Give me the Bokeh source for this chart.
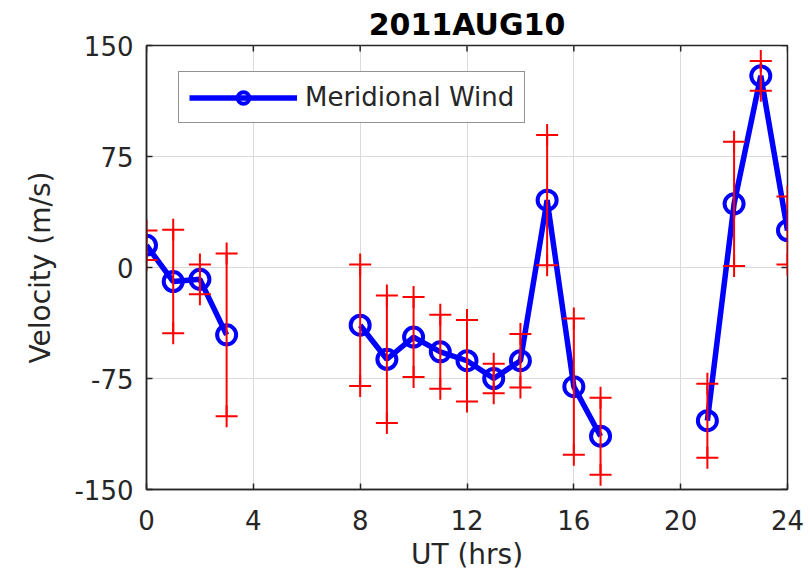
import math
from bokeh.plotting import figure
from bokeh.models import ColumnDataSource, FixedTicker, Legend, LegendItem
from bokeh.embed import file_html
from bokeh.resources import INLINE

# ---- data ----
ut_hours = list(range(25))
velocity = [15, -9.5, -8, -45.5, math.nan, math.nan, math.nan, math.nan,
            -39, -62, -47, -57, -63, -75, -63, 45.5, -80.5, -114,
            math.nan, math.nan, math.nan, -103.5, 43, 129.5, 25]
error = [10, 35, 10, 55, math.nan, math.nan, math.nan, math.nan,
         41, 43, 27, 25, 27.5, 10, 18, 44, 46, 26,
         math.nan, math.nan, math.nan, 25, 42, 10, 23]
x_ticks = [0, 4, 8, 12, 16, 20, 24]
y_ticks = [-150, -75, 0, 75, 150]
x_lim = (0, 24)
y_lim = (-150, 150)
title_text = "2011AUG10"
series_name = "Meridional Wind"

FONT = "DejaVu Sans"
AX = "#262626"

line_src = ColumnDataSource(dict(x=ut_hours, y=velocity))
valid = [i for i, v in enumerate(velocity) if not math.isnan(v)]
err_src = ColumnDataSource(dict(
    x=[ut_hours[i] for i in valid],
    y=[velocity[i] for i in valid],
    lo=[velocity[i] - error[i] for i in valid],
    hi=[velocity[i] + error[i] for i in valid],
))

p = figure(frame_width=641, frame_height=444, x_range=x_lim, y_range=y_lim,
           output_backend="svg", toolbar_location=None,
           min_border_left=146, min_border_right=23, min_border_top=44, min_border_bottom=98)
p.background_fill_color = "white"
p.border_fill_color = "white"
p.outline_line_color = AX
p.outline_line_width = 1.5

p.title.text = title_text
p.title.align = "center"
p.title.text_font = FONT
p.title.text_font_size = "30px"
p.title.text_font_style = "bold"
p.title.text_color = "black"
p.title.standoff = 8

p.grid.ticker = None
p.xgrid.ticker = FixedTicker(ticks=x_ticks)
p.ygrid.ticker = FixedTicker(ticks=y_ticks)
p.grid.grid_line_color = "#dadada"
p.grid.grid_line_width = 1

# ticks mirrored on the top and right frame edges (half clipped by the frame)
p.scatter(x=x_ticks, y=[y_lim[1]] * len(x_ticks), marker="dash", angle=math.pi / 2,
          size=12, line_color=AX, line_width=1.5)
p.scatter(x=[x_lim[1]] * len(y_ticks), y=y_ticks, marker="dash",
          size=12, line_color=AX, line_width=1.5)

ln = p.line("x", "y", source=line_src, line_color="blue", line_width=5.5)
mk = p.scatter("x", "y", source=err_src, marker="circle", size=19, fill_color=None,
               line_color="blue", line_width=4)
p.segment("x", "lo", "x", "hi", source=err_src, line_color="red", line_width=2)
p.scatter("x", "hi", source=err_src, marker="cross", size=22, line_color="red", line_width=2)
p.scatter("x", "lo", source=err_src, marker="cross", size=22, line_color="red", line_width=2)

for ax in (p.xaxis[0], p.yaxis[0]):
    ax.major_label_text_font = FONT
    ax.major_label_text_font_size = "26px"
    ax.major_label_text_color = AX
    ax.axis_label_text_font = FONT
    ax.axis_label_text_font_size = "28px"
    ax.axis_label_text_font_style = "normal"
    ax.axis_label_text_color = AX
    ax.axis_line_color = AX
    ax.axis_line_width = 1.5
    ax.major_tick_line_color = AX
    ax.major_tick_line_width = 1.5
    ax.major_tick_in = 6
    ax.major_tick_out = 0
    ax.minor_tick_line_color = None

p.xaxis[0].ticker = FixedTicker(ticks=x_ticks)
p.yaxis[0].ticker = FixedTicker(ticks=y_ticks)
p.yaxis[0].major_label_overrides = {t: str(t) for t in y_ticks}
p.xaxis[0].axis_label = "UT (hrs)"
p.yaxis[0].axis_label = "Velocity (m/s)"
p.xaxis[0].major_label_standoff = 20
p.yaxis[0].major_label_standoff = 13
p.xaxis[0].axis_label_standoff = 5
p.yaxis[0].axis_label_standoff = 14

legend = Legend(items=[LegendItem(label=series_name, renderers=[ln, mk])],
                location=(32, 366), label_text_font=FONT, label_text_font_size="26px",
                label_text_color=AX, border_line_color=AX, border_line_width=1.5,
                glyph_width=108, glyph_height=29, label_height=29, label_standoff=8,
                padding=10, margin=0, background_fill_alpha=1)
p.add_layout(legend)

open("out.html", "w").write(file_html(p, INLINE))
